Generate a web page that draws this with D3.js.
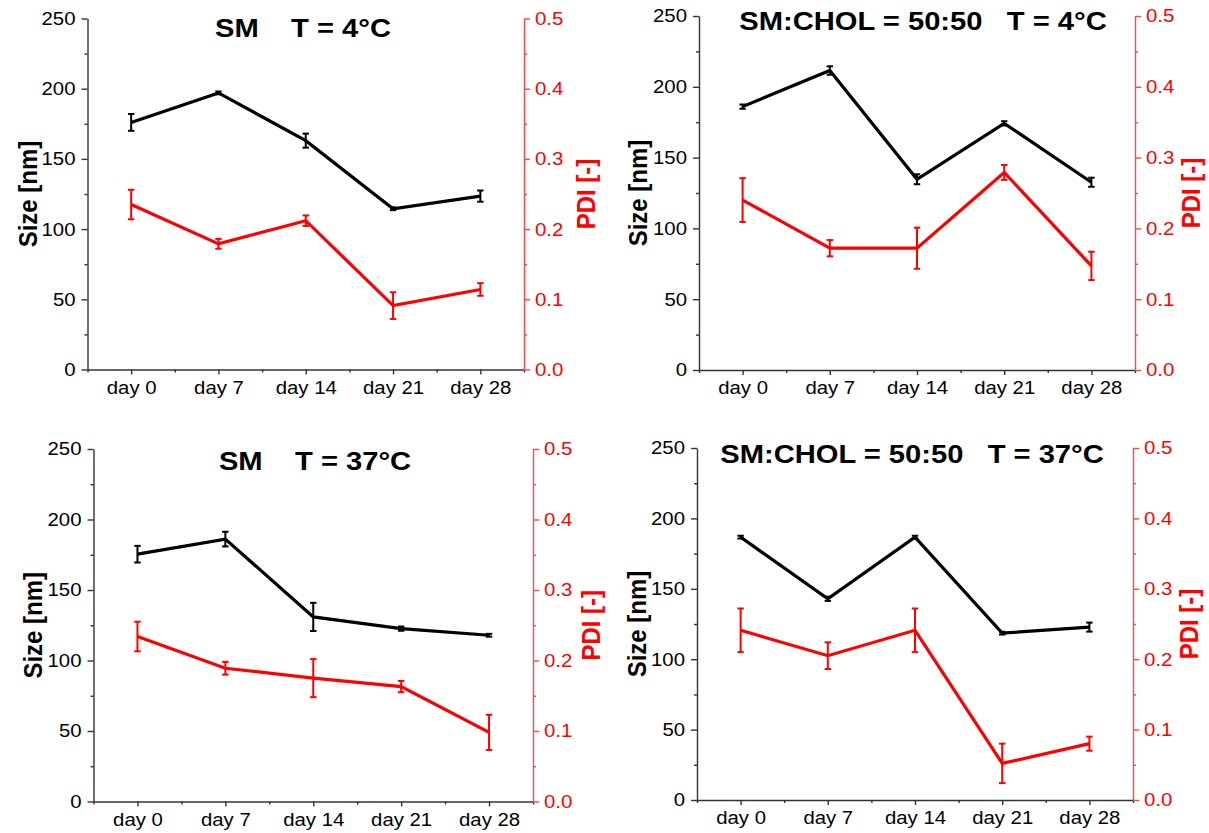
<!DOCTYPE html>
<html>
<head>
<meta charset="utf-8">
<script src="https://cdn.jsdelivr.net/npm/d3@7"></script>
<style>
body { margin: 0; background: #fff; }
text { font-family: "Liberation Sans", Arial, sans-serif; }
</style>
</head>
<body>
<div id="chart-area"></div>
<script>
// categories and ticks
var days = ["day 0", "day 7", "day 14", "day 21", "day 28"];
var sizeTicks = [0, 50, 100, 150, 200, 250];
var sizeMinor = [25, 75, 125, 175, 225];
var pdiTicks = [0, 0.1, 0.2, 0.3, 0.4, 0.5];
var pdiMinor = [0.05, 0.15, 0.25, 0.35, 0.45];

var titles = [
	"SM\u00a0\u00a0\u00a0\u00a0T = 4°C",
	"SM:CHOL = 50:50\u00a0\u00a0\u00a0T = 4°C",
	"SM\u00a0\u00a0\u00a0\u00a0T = 37°C",
	"SM:CHOL = 50:50\u00a0\u00a0\u00a0T = 37°C"
];

// SM, 4°C
var sizeSM4 = [176, 197, 163, 114.5, 123.5];
var sizeSM4Err = [6, 1, 5, 1, 4];
var pdiSM4 = [0.235, 0.179, 0.212, 0.091, 0.114];
var pdiSM4Err = [0.021, 0.007, 0.0075, 0.019, 0.009];

// SM:CHOL 50:50, 4°C
var sizeChol4 = [186, 211.5, 134.7, 174.2, 132.6];
var sizeChol4Err = [1.5, 3, 3.5, 1.5, 3.2];
var pdiChol4 = [0.240, 0.172, 0.172, 0.279, 0.147];
var pdiChol4Err = [0.031, 0.0115, 0.029, 0.0105, 0.020];

// SM, 37°C
var sizeSM37 = [175.4, 186.1, 130.9, 122.6, 117.9];
var sizeSM37Err = [5.9, 5.2, 10, 1.5, 1];
var pdiSM37 = [0.234, 0.189, 0.175, 0.163, 0.098];
var pdiSM37Err = [0.021, 0.009, 0.027, 0.008, 0.025];

// SM:CHOL 50:50, 37°C
var sizeChol37 = [186.7, 142.9, 186.7, 118.5, 122.8];
var sizeChol37Err = [1, 1.5, 1, 1, 3.2];
var pdiChol37 = [0.241, 0.205, 0.241, 0.052, 0.080];
var pdiChol37Err = [0.031, 0.019, 0.031, 0.028, 0.010];

var width = 1209,
	height = 833;
var stretch = 1.1;

var panels = [
	{left: 87.5, right: 524, top: 18.5, bottom: 369.5, titleX: 303, titleY: 37, sizeX: 36.5, pdiX: 595,
		size: sizeSM4, sizeErr: sizeSM4Err, pdi: pdiSM4, pdiErr: pdiSM4Err},
	{left: 699, right: 1135, top: 16, bottom: 370, titleX: 923, titleY: 30, sizeX: 646.5, pdiX: 1200,
		size: sizeChol4, sizeErr: sizeChol4Err, pdi: pdiChol4, pdiErr: pdiChol4Err},
	{left: 93.5, right: 533, top: 449, bottom: 801.5, titleX: 315, titleY: 470, sizeX: 41.5, pdiX: 600,
		size: sizeSM37, sizeErr: sizeSM37Err, pdi: pdiSM37, pdiErr: pdiSM37Err},
	{left: 697, right: 1133, top: 448, bottom: 800, titleX: 912, titleY: 463, sizeX: 645.5, pdiX: 1198,
		size: sizeChol37, sizeErr: sizeChol37Err, pdi: pdiChol37, pdiErr: pdiChol37Err}
];

var svg = d3.select("#chart-area").append("svg")
	.attr("width", width)
	.attr("height", height);

var axisColor = "#333",
	redAxis = "#ff4545";

// stretch tick labels horizontally around their anchor
function stretchText(sel) {
	sel.selectAll(".tick text").each(function() {
		var t = d3.select(this);
		var x = +t.attr("x") || 0;
		t.attr("transform", "translate(" + x + ",0) scale(" + stretch + ",1) translate(" + (-x) + ",0)");
	});
}

function styleAxis(sel, color, textColor) {
	sel.attr("font-size", 18.5).attr("font-family", "'Liberation Sans', Arial, sans-serif");
	sel.selectAll("path.domain").attr("stroke", color).attr("stroke-width", 1.4);
	sel.selectAll(".tick line").attr("stroke", color).attr("stroke-width", 1.4);
	sel.selectAll(".tick text").attr("fill", textColor);
	stretchText(sel);
}

panels.forEach(function(p, i) {
	var g = svg.append("g");

	var x = d3.scaleLinear().domain([-0.5, 4.5]).range([p.left, p.right]);
	var ySize = d3.scaleLinear().domain([0, 250]).range([p.bottom, p.top]);
	var yPdi = d3.scaleLinear().domain([0, 0.5]).range([p.bottom, p.top]);

	// minor ticks
	g.append("g")
		.attr("transform", "translate(" + p.left + ",0)")
		.call(d3.axisLeft(ySize).tickValues(sizeMinor).tickSize(3).tickSizeOuter(0).tickFormat(""))
		.call(function(s) { styleAxis(s, axisColor, "#000"); s.select(".domain").remove(); });
	g.append("g")
		.attr("transform", "translate(" + p.right + ",0)")
		.call(d3.axisRight(yPdi).tickValues(pdiMinor).tickSize(3).tickSizeOuter(0).tickFormat(""))
		.call(function(s) { styleAxis(s, redAxis, "red"); s.select(".domain").remove(); });
	g.append("g")
		.attr("transform", "translate(0," + p.bottom + ")")
		.call(d3.axisBottom(x).tickValues([-0.5, 0.5, 1.5, 2.5, 3.5, 4.5]).tickSize(3).tickSizeOuter(0).tickFormat(""))
		.call(function(s) { styleAxis(s, axisColor, "#000"); s.select(".domain").remove(); });

	// major axes
	g.append("g")
		.attr("transform", "translate(0," + p.bottom + ")")
		.call(d3.axisBottom(x).tickValues(d3.range(days.length)).tickSize(5).tickSizeOuter(0).tickPadding(6)
			.tickFormat(function(d) { return days[d]; }))
		.call(function(s) { styleAxis(s, axisColor, "#000"); });
	g.append("g")
		.attr("transform", "translate(" + p.left + ",0)")
		.call(d3.axisLeft(ySize).tickValues(sizeTicks).tickSize(6).tickSizeOuter(0).tickPadding(6)
			.tickFormat(d3.format("d")))
		.call(function(s) { styleAxis(s, axisColor, "#000"); });
	g.append("g")
		.attr("transform", "translate(" + p.right + ",0)")
		.call(d3.axisRight(yPdi).tickValues(pdiTicks).tickSize(6).tickSizeOuter(0).tickPadding(5)
			.tickFormat(d3.format(".1f")))
		.call(function(s) { styleAxis(s, redAxis, "red"); });

	// axis titles
	g.append("text")
		.attr("transform", "translate(" + p.sizeX + "," + ((p.top + p.bottom) / 2) + ") scale(" + stretch + ",1) rotate(-90)")
		.attr("text-anchor", "middle")
		.attr("font-size", 24)
		.attr("font-weight", "bold")
		.attr("fill", "#000")
		.text("Size [nm]");
	g.append("text")
		.attr("transform", "translate(" + p.pdiX + "," + ((p.top + p.bottom) / 2) + ") scale(" + stretch + ",1) rotate(-90)")
		.attr("text-anchor", "middle")
		.attr("font-size", 24)
		.attr("font-weight", "bold")
		.attr("fill", "red")
		.text("PDI [-]");

	// title
	g.append("text")
		.attr("transform", "translate(" + p.titleX + "," + p.titleY + ") scale(" + stretch + ",1)")
		.attr("text-anchor", "middle")
		.attr("font-size", 26.5)
		.attr("font-weight", "bold")
		.attr("fill", "#000")
		.text(titles[i]);

	// series
	var series = [
		{vals: p.size, errs: p.sizeErr, y: ySize, color: "#000"},
		{vals: p.pdi, errs: p.pdiErr, y: yPdi, color: "red"}
	];
	series.forEach(function(s) {
		var line = d3.line()
			.x(function(d, j) { return x(j); })
			.y(function(d) { return s.y(d); });
		g.append("path")
			.datum(s.vals)
			.attr("d", line)
			.attr("fill", "none")
			.attr("stroke", s.color)
			.attr("stroke-width", 3.2);

		var eb = g.append("g").attr("stroke", s.color).attr("stroke-width", 2);
		s.vals.forEach(function(v, j) {
			var cx = x(j),
				y1 = s.y(v - s.errs[j]),
				y2 = s.y(v + s.errs[j]);
			eb.append("line").attr("x1", cx).attr("x2", cx).attr("y1", y1).attr("y2", y2);
			eb.append("line").attr("x1", cx - 3.2).attr("x2", cx + 3.2).attr("y1", y1).attr("y2", y1);
			eb.append("line").attr("x1", cx - 3.2).attr("x2", cx + 3.2).attr("y1", y2).attr("y2", y2);
		});
	});
});
</script>
</body>
</html>
